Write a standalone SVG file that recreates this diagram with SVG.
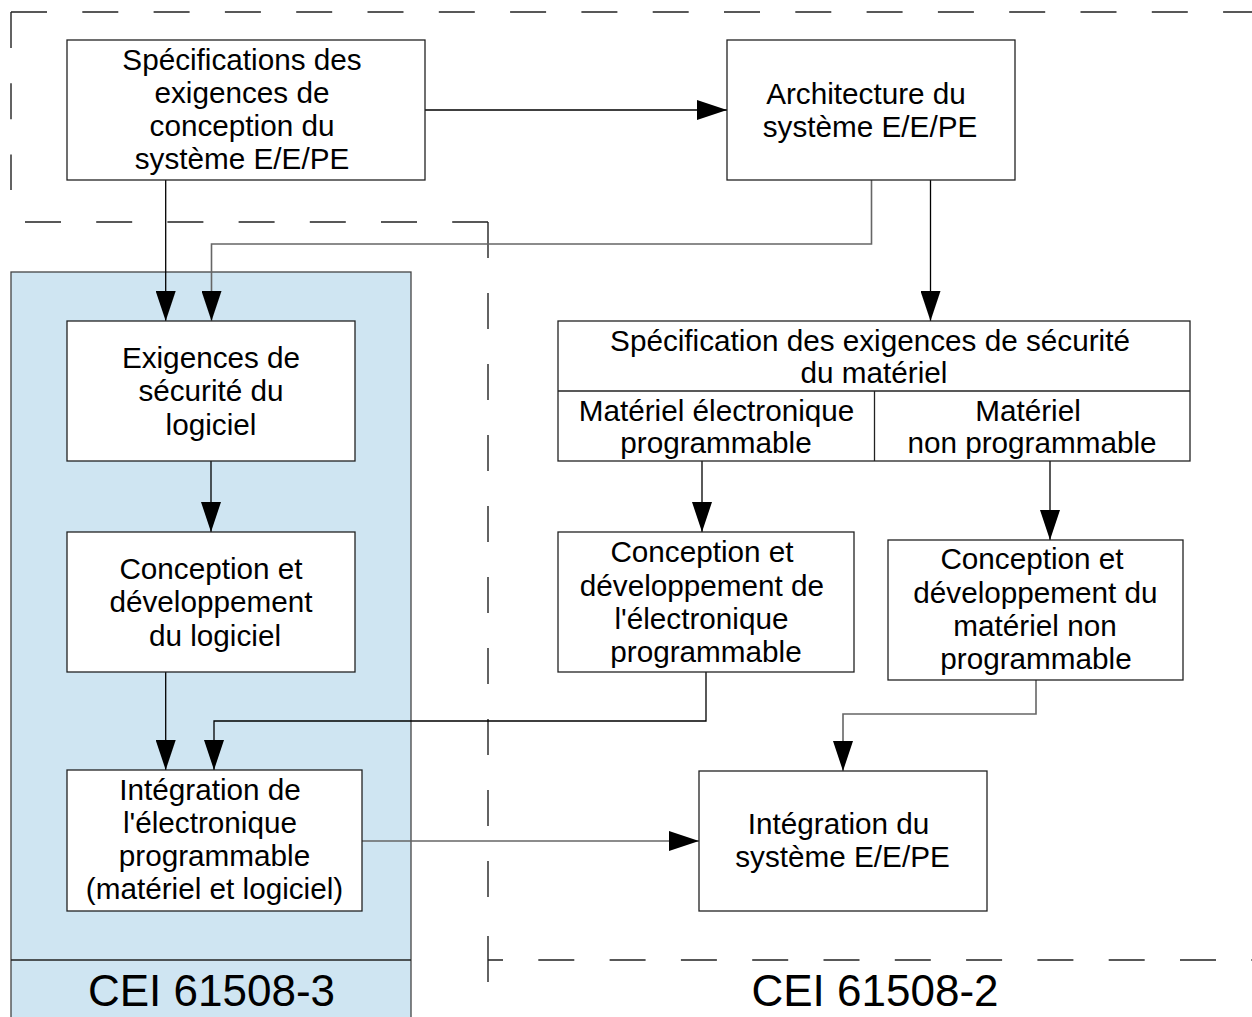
<svg xmlns="http://www.w3.org/2000/svg" width="1252" height="1017" viewBox="0 0 1252 1017">
<style>
.t{font-family:"Liberation Sans",Arial,sans-serif;font-size:29.7px;fill:#000;text-anchor:middle}
.big{font-family:"Liberation Sans",Arial,sans-serif;font-size:44px;fill:#000;text-anchor:middle}
.box{fill:#fff;stroke:#222;stroke-width:1.3}
.dash{fill:none;stroke:#222;stroke-width:1.4;stroke-dasharray:36 35.3}
.c{fill:none;stroke:#000;stroke-width:1.3}
.g{fill:none;stroke:#666;stroke-width:1.6}
</style>
<defs>
<marker id="ah" markerUnits="userSpaceOnUse" markerWidth="30" markerHeight="20" refX="30" refY="10" orient="auto">
<path d="M0,0 L30,10 L0,20 Z" fill="#000"/>
</marker>
</defs>
<rect width="1252" height="1017" fill="#fff"/>
<g id="boundaries">
<line class="dash" x1="11" y1="12" x2="1252" y2="12"/>
<line class="dash" x1="11" y1="12" x2="11" y2="190"/>
<line class="dash" x1="25" y1="222" x2="488" y2="222" style="stroke-dasharray:36 35.2"/>
<line class="dash" x1="488" y1="222" x2="488" y2="932" style="stroke-dasharray:36 35"/>
<line x1="488" y1="936" x2="488" y2="982" stroke="#222" stroke-width="1.4"/>
<line class="dash" x1="488" y1="960" x2="1252" y2="960" style="stroke-dashoffset:21"/>
</g>
<g id="cei3">
<rect x="11" y="272" width="400" height="760" fill="#cfe5f2" stroke="#444" stroke-width="1.3"/>
<line x1="11" y1="960" x2="411" y2="960" stroke="#222" stroke-width="1.3"/>
<text class="big" x="211.5" y="1006">CEI 61508-3</text>
</g>
<g id="cei2">
<text class="big" x="875" y="1006">CEI 61508-2</text>
</g>
<g id="connectors">
<path class="c" d="M425,110 H727" marker-end="url(#ah)"/>
<path class="c" d="M165.7,180 V321" marker-end="url(#ah)"/>
<path class="g" d="M871.5,180 V244 H211.5 V321" marker-end="url(#ah)"/>
<path class="c" d="M930.5,180 V321" marker-end="url(#ah)"/>
<path class="c" d="M211,461 V532" marker-end="url(#ah)"/>
<path class="c" d="M165.7,672 V770" marker-end="url(#ah)"/>
<path class="c" d="M706,672 V721 H214 V770" marker-end="url(#ah)"/>
<path class="g" d="M1036,680 V714 H843 V771" marker-end="url(#ah)"/>
<path class="c" d="M702,461 V532" marker-end="url(#ah)"/>
<path class="c" d="M1050,461 V540" marker-end="url(#ah)"/>
<path class="g" d="M362,841 H699" marker-end="url(#ah)"/>
</g>
<g id="spec-conception">
<rect class="box" x="67" y="40" width="358" height="140"/>
<text class="t" x="242" y="70">Spécifications des</text>
<text class="t" x="242" y="103">exigences de</text>
<text class="t" x="242" y="136">conception du</text>
<text class="t" x="242" y="169">système E/E/PE</text>
</g>
<g id="architecture">
<rect class="box" x="727" y="40" width="288" height="140"/>
<text class="t" x="866" y="103.5">Architecture du</text>
<text class="t" x="870" y="136.5">système E/E/PE</text>
</g>
<g id="exigences-logiciel">
<rect class="box" x="67" y="321" width="288" height="140"/>
<text class="t" x="211" y="368">Exigences de</text>
<text class="t" x="211" y="401">sécurité du</text>
<text class="t" x="211" y="435">logiciel</text>
</g>
<g id="conception-logiciel">
<rect class="box" x="67" y="532" width="288" height="140"/>
<text class="t" x="211" y="579">Conception et</text>
<text class="t" x="211" y="612">développement</text>
<text class="t" x="215" y="646">du logiciel</text>
</g>
<g id="integration-pe">
<rect class="box" x="67" y="770" width="295" height="141"/>
<text class="t" x="210" y="800">Intégration de</text>
<text class="t" x="210" y="833">l'électronique</text>
<text class="t" x="214.5" y="866">programmable</text>
<text class="t" x="214.5" y="899">(matériel et logiciel)</text>
</g>
<g id="spec-materiel">
<rect class="box" x="558" y="321" width="632" height="140"/>
<line x1="558" y1="391" x2="1190" y2="391" stroke="#222" stroke-width="1.3"/>
<line x1="874.5" y1="391" x2="874.5" y2="461" stroke="#222" stroke-width="1.3"/>
<text class="t" x="870" y="350.5">Spécification des exigences de sécurité</text>
<text class="t" x="874" y="382.5">du matériel</text>
<text class="t" x="716.5" y="420.5">Matériel électronique</text>
<text class="t" x="716" y="452.5">programmable</text>
<text class="t" x="1028" y="420.5">Matériel</text>
<text class="t" x="1032" y="452.5">non programmable</text>
</g>
<g id="conception-pe">
<rect class="box" x="558" y="532" width="296" height="140"/>
<text class="t" x="702" y="562">Conception et</text>
<text class="t" x="702" y="596">développement de</text>
<text class="t" x="701.5" y="629">l'électronique</text>
<text class="t" x="706" y="662">programmable</text>
</g>
<g id="conception-np">
<rect class="box" x="888" y="540" width="295" height="140"/>
<text class="t" x="1032" y="569">Conception et</text>
<text class="t" x="1035.5" y="603">développement du</text>
<text class="t" x="1035" y="636">matériel non</text>
<text class="t" x="1036" y="669">programmable</text>
</g>
<g id="integration-systeme">
<rect class="box" x="699" y="771" width="288" height="140"/>
<text class="t" x="838.5" y="834">Intégration du</text>
<text class="t" x="842.5" y="867">système E/E/PE</text>
</g>
</svg>
